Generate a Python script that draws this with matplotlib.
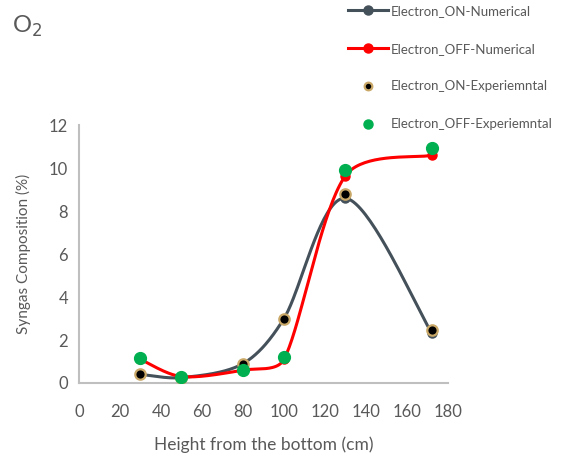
import numpy as np
import matplotlib.pyplot as plt

plt.rcParams['font.family'] = ['Lato', 'DejaVu Sans']

# data
height = [30, 50, 80, 100, 130, 172]
on_num = [0.4, 0.25, 0.9, 3.0, 8.6, 2.35]
off_num = [1.1, 0.3, 0.6, 1.1, 9.65, 10.6]
on_exp = [0.4, 0.25, 0.9, 3.0, 8.8, 2.45]
off_exp = [1.15, 0.3, 0.6, 1.2, 9.9, 10.95]

x_ticks = list(range(0, 181, 20))
y_ticks = list(range(0, 13, 2))

TXT = '#595959'


def smooth(xs, ys, n=40, sx=2.05, sy=21.5):
    """Excel-like smoothed line: catmull-rom bezier, handles clamped
    to a third of the segment (screen units)."""
    p = np.column_stack([np.asarray(xs) * sx, np.asarray(ys) * sy]).astype(float)
    m = len(p)
    tang = np.array([(p[min(i + 1, m - 1)] - p[max(i - 1, 0)]) / 6 for i in range(m)])
    out = []
    t = np.linspace(0, 1, n)[:, None]
    for i in range(m - 1):
        p1, p2 = p[i], p[i + 1]
        lim = np.linalg.norm(p2 - p1) / 3
        d1, d2 = tang[i], tang[i + 1]
        if np.linalg.norm(d1) > lim:
            d1 = d1 * lim / np.linalg.norm(d1)
        if np.linalg.norm(d2) > lim:
            d2 = d2 * lim / np.linalg.norm(d2)
        c1 = p1 + d1
        c2 = p2 - d2
        seg = ((1 - t) ** 3) * p1 + 3 * ((1 - t) ** 2) * t * c1 + 3 * (1 - t) * t ** 2 * c2 + t ** 3 * p2
        out.append(seg)
    out = np.vstack(out)
    return out[:, 0] / sx, out[:, 1] / sy


fig = plt.figure(figsize=(5.75, 4.62), dpi=100)
ax = fig.add_axes([0.1374, 0.171, 0.6416, 0.558])

sx, sy = smooth(height, on_num)
ax.plot(sx, sy, color='#44505a', lw=2.2, zorder=2)
ax.plot(height, on_num, 'o', color='#44505a', ms=6.5, zorder=2)
sx, sy = smooth(height, off_num)
ax.plot(sx, sy, color='#ff0000', lw=2.2, zorder=3)
ax.plot(height, off_num, 'o', color='#ff0000', ms=6.5, zorder=3)
ax.plot(height, on_exp, 'o', color='black', mec='#c9a868', mew=1.6, ms=7.5, zorder=4)
ax.plot(height, off_exp, 'o', color='#00b050', mec='#00b050', ms=8.5, zorder=5)

ax.set_xlim(0, 180)
ax.set_ylim(0, 12)
ax.set_xticks(x_ticks)
ax.set_yticks(y_ticks)
ax.tick_params(length=0, labelsize=12, labelcolor=TXT)
ax.tick_params(axis='x', pad=15)
ax.tick_params(axis='y', pad=8)
for s in ['top', 'right']:
    ax.spines[s].set_visible(False)
for s in ['left', 'bottom']:
    ax.spines[s].set_color('#bfbfbf')
    ax.spines[s].set_linewidth(1.5)

ax.set_xlabel('Height from the bottom (cm)', fontsize=12.5, color=TXT, labelpad=12)
ax.set_ylabel('Syngas Composition (%)', fontsize=11, color=TXT, labelpad=13)
fig.text(0.02, 0.93, 'O$_2$', fontsize=17, color=TXT)

# legend
h1, = ax.plot([], [], '-o', color='#44505a', lw=2.2, ms=6.5)
h2, = ax.plot([], [], '-o', color='#ff0000', lw=2.2, ms=6.5)
h3, = ax.plot([], [], 'o', color='black', mec='#c9a868', mew=1.6, ms=5.5)
h4, = ax.plot([], [], 'o', color='#00b050', ms=6.5)
fig.legend([h1, h2, h3, h4],
           ['Electron_ON-Numerical', 'Electron_OFF-Numerical',
            'Electron_ON-Experiemntal', 'Electron_OFF-Experiemntal'],
           loc='upper left', bbox_to_anchor=(0.585, 1.015), frameon=False,
           fontsize=9.5, labelcolor=TXT, handlelength=3.0, handletextpad=0.25,
           labelspacing=1.95)

fig.savefig('out.png', dpi=100)
